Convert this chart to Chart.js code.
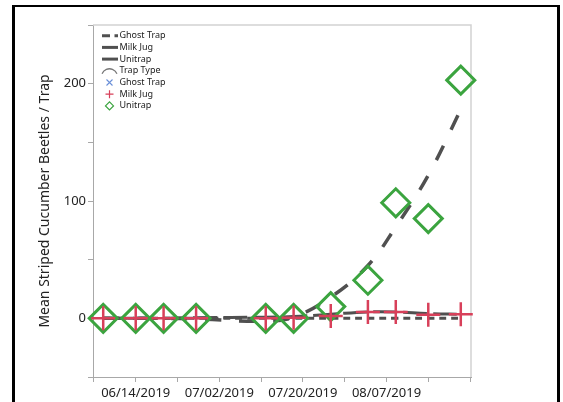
<!DOCTYPE html>
<html>
<head>
<meta charset="utf-8">
<script src="https://cdn.jsdelivr.net/npm/chart.js@4.4.1/dist/chart.umd.min.js"></script>
<style>
  html, body { margin: 0; padding: 0; background: #fff; overflow: hidden; }
  #wrap { position: relative; width: 563px; height: 402px; overflow: hidden; }
  #c { position: absolute; left: 0; top: 0; }
  #frame { position: absolute; left: 12px; top: 5px; width: 542px; height: 440px;
           border-left: 3px solid #000; border-right: 3px solid #000; border-top: 2px solid #000; }
</style>
</head>
<body>
<div id="wrap">
  <canvas id="c" width="563" height="402"></canvas>
  <div id="frame"></div>
</div>
<script>
// Trap types and sampling dates
const trapTypes = ['Ghost Trap', 'Milk Jug', 'Unitrap'];
const sampleDates = ['06/07/2019', '06/14/2019', '06/20/2019', '06/27/2019', '07/12/2019', '07/18/2019',
                     '07/26/2019', '08/03/2019', '08/09/2019', '08/16/2019', '08/23/2019'];

// Mean beetles per trap (markers)
const milkJugMean = [0, 0, 0, 0, 0, 0.5, 2, 5.5, 5.5, 3, 3.5];
const unitrapMean = [0, 0, 0, 0, 0, 0, 10, 32.5, 98.5, 85, 203];

// Smoothed trend per trap type (lines)
const ghostTrapSmooth = [0, 0, 0, 0, 0, 0, 0, 0, 0, 0, 0];
const milkJugSmooth   = [0, 0, 0, 0.5, 1, 1.5, 3.5, 5.5, 5.5, 4, 3.5];
const unitrapSmooth   = [0, 0, 0, -0.5, -2.5, 1, 18, 45, 78, 122, 178];

// Axis ticks
const dateTicks = ['06/05/2019', '06/14/2019', '06/23/2019', '07/02/2019', '07/11/2019',
                   '07/20/2019', '07/29/2019', '08/07/2019', '08/16/2019', '08/25/2019'];
const labeledDates = ['06/14/2019', '07/02/2019', '07/20/2019', '08/07/2019'];
const yTicks = [-50, 0, 50, 100, 150, 200, 250];
const yLabeled = [0, 100, 200];

const DAY = 86400000;
const FONT = '"Noto Sans", "Open Sans", sans-serif';
const LINE_GRAY = '#505050';
const AXIS_GRAY = '#a8a8a8';
const RED = '#d8405a';
const GREEN = '#3ba43f';
const BLUE = '#6a8fd8';

function toMs(s) {
  const [m, d, y] = s.split('/').map(Number);
  return Date.UTC(y, m - 1, d);
}
function fmt(ms) {
  const dt = new Date(ms);
  const p = n => String(n).padStart(2, '0');
  return p(dt.getUTCMonth() + 1) + '/' + p(dt.getUTCDate()) + '/' + dt.getUTCFullYear();
}
const pts = arr => sampleDates.map((d, i) => ({ x: toMs(d), y: arr[i] }));

// Legend drawn inside the plot area, top-left
const legendRows = [
  { text: trapTypes[0], kind: 'line', dash: [8, 4.5] },
  { text: trapTypes[1], kind: 'line', dash: [] },
  { text: trapTypes[2], kind: 'line', dash: [] },
  { text: 'Trap Type', kind: 'arc' },
  { text: trapTypes[0], kind: 'x', color: BLUE },
  { text: trapTypes[1], kind: 'plus', color: RED },
  { text: trapTypes[2], kind: 'diamond', color: GREEN }
];

const insideLegend = {
  id: 'insideLegend',
  afterDraw(chart) {
    const ctx = chart.ctx;
    const ca = chart.chartArea;
    const x0 = ca.left + 9, x1 = ca.left + 25, cx = ca.left + 16.5, tx = ca.left + 26.5;
    let y = ca.top + 10.7;
    ctx.save();
    ctx.font = '9px ' + FONT;
    ctx.textBaseline = 'middle';
    ctx.textAlign = 'left';
    legendRows.forEach(r => {
      ctx.save();
      if (r.kind === 'line') {
        ctx.strokeStyle = LINE_GRAY; ctx.lineWidth = 3; ctx.setLineDash(r.dash);
        ctx.beginPath(); ctx.moveTo(x0, y); ctx.lineTo(x1, y); ctx.stroke();
      } else if (r.kind === 'arc') {
        ctx.strokeStyle = '#777'; ctx.lineWidth = 1.3;
        ctx.beginPath(); ctx.arc(cx, y + 6, 8, Math.PI * 1.12, Math.PI * 1.88); ctx.stroke();
      } else if (r.kind === 'x') {
        ctx.strokeStyle = r.color; ctx.lineWidth = 1.1;
        ctx.beginPath(); ctx.moveTo(cx - 3, y - 3); ctx.lineTo(cx + 3, y + 3);
        ctx.moveTo(cx + 3, y - 3); ctx.lineTo(cx - 3, y + 3); ctx.stroke();
      } else if (r.kind === 'plus') {
        ctx.strokeStyle = r.color; ctx.lineWidth = 1.2;
        ctx.beginPath(); ctx.moveTo(cx - 4, y); ctx.lineTo(cx + 4, y);
        ctx.moveTo(cx, y - 4); ctx.lineTo(cx, y + 4); ctx.stroke();
      } else if (r.kind === 'diamond') {
        ctx.strokeStyle = r.color; ctx.lineWidth = 1.2;
        ctx.beginPath(); ctx.moveTo(cx - 4, y); ctx.lineTo(cx, y - 4);
        ctx.lineTo(cx + 4, y); ctx.lineTo(cx, y + 4); ctx.closePath(); ctx.stroke();
      }
      ctx.restore();
      ctx.fillStyle = '#222';
      ctx.fillText(r.text, tx, y);
      y += 11.7;
    });
    ctx.restore();
  }
};

// Light frame on the top and right sides of the plot area
const plotFrame = {
  id: 'plotFrame',
  beforeDatasetsDraw(chart) {
    const { ctx, chartArea: ca } = chart;
    ctx.save();
    ctx.strokeStyle = '#d2d2d2';
    ctx.lineWidth = 1.5;
    ctx.beginPath();
    ctx.moveTo(ca.left, ca.top); ctx.lineTo(ca.right, ca.top); ctx.lineTo(ca.right, ca.bottom);
    ctx.stroke();
    ctx.restore();
  }
};

new Chart(document.getElementById('c'), {
  type: 'line',
  data: {
    datasets: [
      { label: trapTypes[0], data: pts(ghostTrapSmooth), borderColor: LINE_GRAY, borderWidth: 3,
        borderDash: [7, 5], pointRadius: 0, tension: 0.4, fill: false, order: 5 },
      { label: trapTypes[1], data: pts(milkJugSmooth), borderColor: LINE_GRAY, borderWidth: 3,
        borderDash: [24, 6], pointRadius: 0, tension: 0.4, fill: false, order: 4 },
      { label: trapTypes[2], data: pts(unitrapSmooth), borderColor: LINE_GRAY, borderWidth: 3.5,
        borderDash: [16, 18], pointRadius: 0, tension: 0.4, fill: false, order: 3 },
      { label: trapTypes[2] + ' mean', data: pts(unitrapMean), showLine: false,
        pointStyle: 'rectRot', pointRadius: 14, pointBorderWidth: 3,
        pointBorderColor: GREEN, pointBackgroundColor: 'rgba(0,0,0,0)', clip: false, order: 2 },
      { label: trapTypes[1] + ' mean', data: pts(milkJugMean), showLine: false,
        pointStyle: 'cross', pointRadius: 12, pointBorderWidth: 2.5,
        pointBorderColor: RED, pointBackgroundColor: RED, clip: false, order: 1 }
    ]
  },
  options: {
    responsive: false,
    animation: false,
    devicePixelRatio: 1,
    layout: { padding: { left: 30, top: 25, right: 92, bottom: 0 } },
    plugins: { legend: { display: false }, tooltip: { enabled: false } },
    scales: {
      x: {
        type: 'linear',
        min: toMs(dateTicks[0]) - 0.2 * DAY,
        max: toMs(dateTicks[dateTicks.length - 1]) + 0.2 * DAY,
        border: { color: AXIS_GRAY, width: 1 },
        grid: { drawOnChartArea: false, color: AXIS_GRAY, tickLength: 5 },
        ticks: {
          autoSkip: false, maxRotation: 0, padding: 3, color: '#222',
          font: { family: FONT, size: 13 },
          callback: v => (labeledDates.includes(fmt(v)) ? fmt(v) : '')
        },
        afterBuildTicks: s => { s.ticks = dateTicks.map(d => ({ value: toMs(d) })); },
        afterFit: s => { s.height = 25; }
      },
      y: {
        min: -50, max: 250,
        border: { color: AXIS_GRAY, width: 1 },
        grid: { drawOnChartArea: false, color: AXIS_GRAY, tickLength: 5 },
        ticks: {
          padding: 2, color: '#222', font: { family: FONT, size: 13 },
          callback: v => (yLabeled.includes(v) ? String(v) : '')
        },
        afterBuildTicks: s => { s.ticks = yTicks.map(v => ({ value: v })); },
        afterFit: s => { s.width = 63; },
        title: {
          display: true, text: 'Mean Striped Cucumber Beetles / Trap', color: '#222',
          font: { family: FONT, size: 14 }, padding: { top: 7, bottom: 0 }
        }
      }
    }
  },
  plugins: [plotFrame, insideLegend]
});
</script>
</body>
</html>
